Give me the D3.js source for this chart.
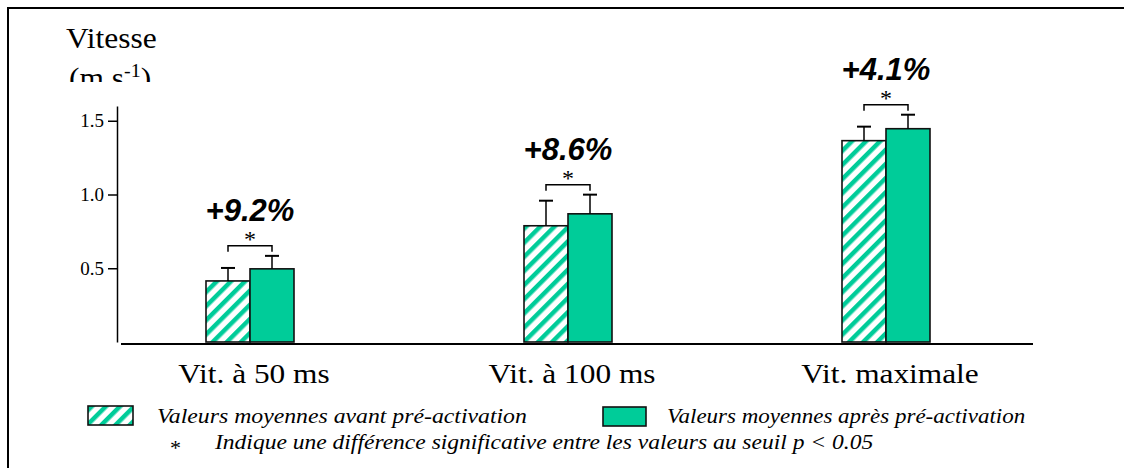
<!DOCTYPE html>
<html>
<head>
<meta charset="utf-8">
<script src="https://cdn.jsdelivr.net/npm/d3@7"></script>
<style>
  html, body { margin: 0; padding: 0; background: #fff; overflow: hidden; }
  svg { display: block; }
  svg text { fill: #000; }
</style>
</head>
<body>
<div id="chart"></div>
<script>
// Data
var categories = ["Vit. à 50 ms", "Vit. à 100 ms", "Vit. maximale"];
var meanBefore = [0.414, 0.788, 1.365];
var sdBefore = [0.088, 0.17, 0.095];
var meanAfter = [0.496, 0.869, 1.446];
var sdAfter = [0.088, 0.13, 0.095];
var gainLabels = ["+9.2%", "+8.6%", "+4.1%"];
var yTicks = [0.5, 1.0, 1.5];

var legendBefore = "Valeurs moyennes avant pré-activation";
var legendAfter = "Valeurs moyennes après pré-activation";
var legendNote = "Indique une différence significative entre les valeurs au seuil p < 0.05";

var W = 1124, H = 468;
var green = "#00cc99";
var barW = 44;
var serif = "'Liberation Serif', 'Times New Roman', Times, serif";
var sans = "'Liberation Sans', Arial, Helvetica, sans-serif";

var svg = d3.select("#chart").append("svg")
    .attr("width", W)
    .attr("height", H);

svg.append("rect").attr("width", W).attr("height", H).attr("fill", "#fff");

var defs = svg.append("defs");

// diagonal hatch for "avant"
var pat = defs.append("pattern")
    .attr("id", "hatch")
    .attr("patternUnits", "userSpaceOnUse")
    .attr("width", 10)
    .attr("height", 10)
    .attr("patternTransform", "rotate(45)");
pat.append("rect").attr("width", 10).attr("height", 10).attr("fill", "#fff");
pat.append("rect").attr("width", 4.5).attr("height", 10).attr("fill", green);

defs.append("clipPath").attr("id", "titleClip")
    .append("rect").attr("x", 0).attr("y", 0).attr("width", 300).attr("height", 82);

// Frame: left and top edges only
svg.append("line")
    .attr("x1", 8).attr("x2", 8).attr("y1", 7).attr("y2", H)
    .attr("stroke", "#000").attr("stroke-width", 2);
svg.append("line")
    .attr("x1", 7).attr("x2", W).attr("y1", 8).attr("y2", 8)
    .attr("stroke", "#000").attr("stroke-width", 2);

// Scales
var x = d3.scalePoint()
    .domain(categories)
    .range([250, 886]);
var y = d3.scaleLinear()
    .domain([0, 1.6])
    .range([342, 106]);

// Y axis
var yAxis = svg.append("g")
    .attr("transform", "translate(117,0)")
    .call(d3.axisLeft(y).tickValues(yTicks).tickFormat(d3.format(".1f")).tickSize(9).tickSizeOuter(0).tickPadding(4));
yAxis.select(".domain").attr("stroke-width", 1.5);
yAxis.selectAll(".tick line").attr("stroke-width", 1.5);
yAxis.selectAll("text")
    .attr("font-family", serif)
    .attr("font-size", 19)
    .attr("fill", "#000");

// baseline
svg.append("line")
    .attr("x1", 121).attr("x2", 1033)
    .attr("y1", y(0) + 2).attr("y2", y(0) + 2)
    .attr("stroke", "#000")
    .attr("stroke-width", 2);

// stretched text helper (the original lettering is a little wide)
function wideText(g, tx, ty, sx, size) {
    return g.append("text")
        .attr("transform", "translate(" + tx + "," + ty + ") scale(" + sx + ",1)")
        .attr("font-family", serif)
        .attr("font-size", size);
}

// Y title
var title = svg.append("g").attr("clip-path", "url(#titleClip)");
wideText(title, 66, 48, 1.05, 30).text("Vitesse");
var unit = wideText(title, 69, 88, 1.05, 30);
unit.append("tspan").text("(m s");
unit.append("tspan").attr("dy", -11).attr("font-size", 19).text("-1");
unit.append("tspan").attr("dy", 11).text(")");

// Bars
var groups = svg.selectAll(".grp")
    .data(categories)
    .enter().append("g")
    .attr("class", "grp");

function errBar(g, cx, mean, sd) {
    g.append("line")
        .attr("x1", cx).attr("x2", cx)
        .attr("y1", y(mean)).attr("y2", y(mean + sd))
        .attr("stroke", "#000").attr("stroke-width", 1.5);
    g.append("line")
        .attr("x1", cx - 7).attr("x2", cx + 7)
        .attr("y1", y(mean + sd)).attr("y2", y(mean + sd))
        .attr("stroke", "#000").attr("stroke-width", 2);
}

groups.each(function(d, i) {
    var g = d3.select(this);
    var cx = x(d);

    g.append("rect")
        .attr("x", cx - barW)
        .attr("y", y(meanBefore[i]))
        .attr("width", barW)
        .attr("height", y(0) - y(meanBefore[i]))
        .attr("fill", "url(#hatch)")
        .attr("stroke", "#111")
        .attr("stroke-width", 1.6);
    g.append("rect")
        .attr("x", cx)
        .attr("y", y(meanAfter[i]))
        .attr("width", barW)
        .attr("height", y(0) - y(meanAfter[i]))
        .attr("fill", green)
        .attr("stroke", "#111")
        .attr("stroke-width", 1.6);

    errBar(g, cx - barW / 2, meanBefore[i], sdBefore[i]);
    errBar(g, cx + barW / 2, meanAfter[i], sdAfter[i]);

    // significance bracket
    var top = Math.min(y(meanBefore[i] + sdBefore[i]), y(meanAfter[i] + sdAfter[i]));
    var by = top - 10;
    g.append("path")
        .attr("d", "M" + (cx - barW / 2) + "," + (by + 6) + "V" + by + "H" + (cx + barW / 2) + "V" + (by + 6))
        .attr("fill", "none")
        .attr("stroke", "#000")
        .attr("stroke-width", 1.5);
    g.append("text")
        .attr("x", cx)
        .attr("y", by + 1)
        .attr("text-anchor", "middle")
        .attr("font-family", serif)
        .attr("font-size", 24)
        .text("*");

    g.append("text")
        .attr("x", cx)
        .attr("y", by - 25)
        .attr("text-anchor", "middle")
        .attr("font-family", sans)
        .attr("font-weight", "bold")
        .attr("font-style", "italic")
        .attr("font-size", 31)
        .text(gainLabels[i]);

    wideText(g, cx + 4, 383, 1.12, 28)
        .attr("text-anchor", "middle")
        .text(d);
});

// Legend
var legend = svg.append("g");

legend.append("rect")
    .attr("x", 88).attr("y", 406).attr("width", 45).attr("height", 19)
    .attr("fill", "url(#hatch)").attr("stroke", "#111").attr("stroke-width", 1.6);
wideText(legend, 157, 423, 1.08, 22).attr("font-style", "italic").text(legendBefore);

legend.append("rect")
    .attr("x", 603).attr("y", 407).attr("width", 43).attr("height", 19)
    .attr("fill", green).attr("stroke", "#111").attr("stroke-width", 1.6);
wideText(legend, 667, 423, 1.045, 22).attr("font-style", "italic").text(legendAfter);

legend.append("text").attr("x", 170).attr("y", 455)
    .attr("font-family", serif).attr("font-size", 22)
    .text("*");
wideText(legend, 215, 449, 1.07, 22).attr("font-style", "italic").text(legendNote);
</script>
</body>
</html>
